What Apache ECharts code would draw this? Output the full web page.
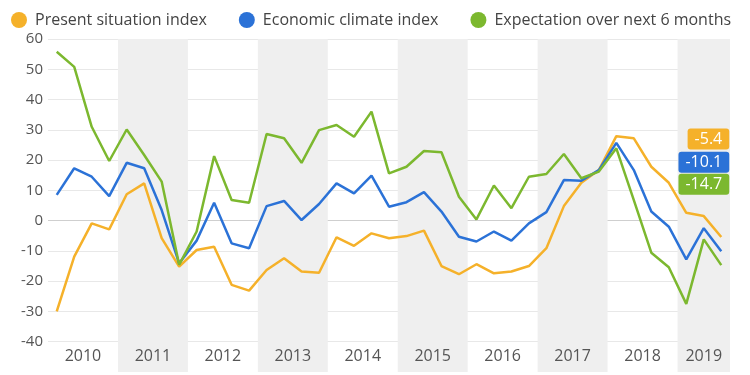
<!DOCTYPE html>
<html>
<head>
<meta charset="utf-8">
<script src="https://cdn.jsdelivr.net/npm/echarts@6/dist/echarts.min.js"></script>
<style>
  html, body { margin: 0; padding: 0; background: #fff; }
  #chart { width: 750px; height: 375px; }
</style>
</head>
<body>
<div id="chart"></div>
<script>
// Quarterly index values, Q1 2010 - Q3 2019
const years = ['2010', '2011', '2012', '2013', '2014', '2015', '2016', '2017', '2018', '2019'];
const quarters = [];
years.forEach(y => {
    const n = y === '2019' ? 3 : 4;
    for (let q = 1; q <= n; q++) quarters.push(y + ' Q' + q);
});

const present = [
    -30, -11.9, -0.9, -2.9, 8.7, 12.3, -5.8, -15.2,
    -9.7, -8.6, -21.2, -23.1, -16.3, -12.4, -16.8, -17.2,
    -5.5, -8.3, -4.2, -5.8, -5.1, -3.3, -15, -17.7,
    -14.4, -17.4, -16.8, -15, -9.1, 4.8, 12.5, 16.7,
    27.9, 27.2, 17.8, 12.5, 2.6, 1.5, -5.4
];
const climate = [
    8.5, 17.3, 14.5, 8.1, 19.1, 17.3, 3.5, -14.1,
    -6.6, 5.9, -7.5, -9.1, 4.8, 6.5, 0.2, 5.5,
    12.3, 9, 14.9, 4.6, 6.1, 9.4, 3, -5.3,
    -6.9, -3.6, -6.6, -0.9, 2.8, 13.4, 13.2, 16.7,
    25.7, 16.7, 3, -2, -12.8, -2.5, -10.1
];
const expectation = [
    55.8, 50.8, 31, 19.7, 30.1, 21.7, 12.9, -14.6,
    -3.6, 21.3, 6.8, 5.9, 28.6, 27.2, 19.1, 29.9,
    31.6, 27.7, 36, 15.6, 17.8, 23, 22.6, 7.9,
    0.4, 11.6, 4.1, 14.5, 15.4, 22, 14, 16.2,
    23.9, 6.8, -10.6, -15.4, -27.5, -6.2, -14.7
];

const shadedYears = ['2011', '2013', '2015', '2017', '2019'];

// half-quarter ticks so year labels and bands line up with the quarters
const halfTicks = [];
for (let i = 0; i <= quarters.length * 2; i++) halfTicks.push('t' + i);
const yearLabels = {};
const yearStart = {};
years.forEach((y, k) => {
    yearStart[y] = k * 8;
    const n = y === '2019' ? 3 : 4;
    yearLabels['t' + (k * 8 + n)] = y;
});
const bands = shadedYears.map(y => {
    const n = y === '2019' ? 3 : 4;
    return [{ xAxis: 't' + yearStart[y] }, { xAxis: 't' + (yearStart[y] + n * 2) }];
});

const orange = '#f5b12a';
const blue = '#2b72d7';
const green = '#7cb82f';

const chart = echarts.init(document.getElementById('chart'));

const gridColors = ['rgba(0,0,0,0)', '#e8e8e8', '#e8e8e8', '#e8e8e8', '#e8e8e8', '#cfcfcf',
    '#e8e8e8', '#e8e8e8', '#e8e8e8', '#e8e8e8', '#e8e8e8', '#e8e8e8'];

function lineSeries(name, data, color, dy) {
    return {
        name: name,
        type: 'line',
        data: data,
        symbol: 'none',
        z: 3,
        lineStyle: { color: color, width: 2.5 },
        itemStyle: { color: color },
        endLabel: {
            show: true,
            formatter: p => p.value,
            backgroundColor: color,
            color: '#fff',
            fontFamily: 'Open Sans',
            fontSize: 16,
            padding: [3, 7, 2, 7],
            borderRadius: 3,
            align: 'right',
            verticalAlign: 'middle',
            offset: [0, dy]
        }
    };
}

const option = {
    animation: false,
    backgroundColor: '#fff',
    legend: {
        data: ['Present situation index', 'Economic climate index', 'Expectation over next 6 months'],
        left: 6,
        top: 7,
        icon: 'circle',
        itemWidth: 16,
        itemHeight: 16,
        itemGap: 32,
        textStyle: { color: '#444', fontSize: 16, fontFamily: 'Open Sans', padding: [0, 0, 0, 3] }
    },
    grid: { left: 48, right: 20, top: 39, bottom: 3 },
    xAxis: [
        {
            type: 'category',
            data: quarters,
            boundaryGap: true,
            axisLine: { show: false },
            axisTick: { show: false },
            axisLabel: { show: false }
        },
        {
            type: 'category',
            data: halfTicks,
            boundaryGap: false,
            position: 'bottom',
            z: 10,
            axisLine: { show: false },
            axisTick: { show: false },
            axisLabel: {
                inside: true,
                interval: 0,
                margin: 8,
                color: '#555',
                fontSize: 16,
                fontFamily: 'Open Sans',
                formatter: v => yearLabels[v] || ''
            }
        }
    ],
    yAxis: {
        type: 'value',
        min: -50,
        max: 60,
        interval: 10,
        axisLine: { show: false },
        axisTick: { show: false },
        axisLabel: {
            color: '#555',
            fontSize: 15,
            fontFamily: 'Open Sans',
            margin: 5,
            formatter: v => (v === -50 ? '' : v)
        },
        splitLine: { lineStyle: { color: gridColors, width: 1 } }
    },
    series: [
        {
            name: 'bands',
            type: 'line',
            xAxisIndex: 1,
            data: [],
            silent: true,
            z: 1,
            markArea: {
                silent: true,
                itemStyle: { color: '#efefef' },
                data: bands
            }
        },
        lineSeries('Present situation index', present, orange, -98),
        lineSeries('Economic climate index', climate, blue, -89),
        lineSeries('Expectation over next 6 months', expectation, green, -81)
    ]
};

chart.setOption(option);
</script>
</body>
</html>
